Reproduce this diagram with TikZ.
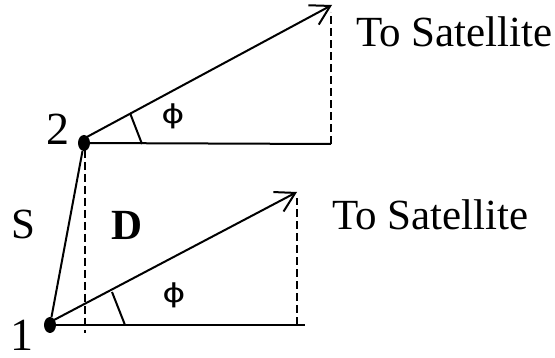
\documentclass[tikz,border=0pt]{standalone}
\usepackage{fontspec}
\setmainfont{Liberation Serif}
\newfontfamily\phifont{DejaVu Sans}
\usetikzlibrary{arrows.meta,shapes.geometric}
\begin{document}
\begin{tikzpicture}[x=1pt,y=-1pt,
  line/.style={line width=2pt},
  dline/.style={line width=1.8pt,dash pattern=on 8pt off 4pt},
  vec/.style={line width=2pt,-{Straight Barb[length=19pt,width=22pt,line width=2pt]}},
  dot/.style={ellipse,fill=black,minimum width=12pt,minimum height=16pt,inner sep=0pt},
  big/.style={font=\fontsize{43}{50}\selectfont,inner sep=0pt,anchor=base west},
  num/.style={font=\fontsize{46}{52}\selectfont,inner sep=0pt,anchor=base west},
  phi/.style={font=\phifont\fontsize{26}{30}\selectfont,inner sep=0pt}
]
\useasboundingbox (0,0) rectangle (555,358);
% points
\node[dot] (p2) at (84,143) {};
\node[dot] (p1) at (50,325) {};
\coordinate (s2) at (85,138);
\coordinate (s1) at (54,320);
\coordinate (t2) at (332,5);
\coordinate (t1) at (297,192);
\coordinate (h2) at (331,144);
\coordinate (h1) at (305,325);
\coordinate (f1) at (297,325);
\coordinate (d2top) at (331,12);
\coordinate (d1top) at (297,198);
\coordinate (vtop) at (85,150);
\coordinate (vbot) at (85,333);
\coordinate (a2a) at (130,113);
\coordinate (a2b) at (142,144);
\coordinate (a1a) at (112,292);
\coordinate (a1b) at (125,325);
% lines
\draw[line] (p1) -- (p2);
\draw[line] (p2.center) -- (h2);
\draw[line] (p1.center) -- (h1);
\draw[vec] (s2) -- (t2);
\draw[vec] (s1) -- (t1);
\draw[dline] (h2) -- (d2top);
\draw[dline] (f1) -- (d1top);
\draw[dline] (vtop) -- (vbot);
\draw[line] (a2a) -- (a2b);
\draw[line] (a1a) -- (a1b);
% labels
\node[big] (ts2) at (356,47) {To Satellite};
\node[big] (ts1) at (332,230) {To Satellite};
\node[num] (n2) at (46,145) {2};
\node[num] (n1) at (10,351) {1};
\node[big] (S) at (11,239) {S};
\node[big] (D) at (111,240) {\textbf{D}};
\node[phi] (phi2) at (173,116) {\scalebox{1.35}[1]{ϕ}};
\node[phi] (phi1) at (174,295) {\scalebox{1.35}[1]{ϕ}};
\end{tikzpicture}
\end{document}
